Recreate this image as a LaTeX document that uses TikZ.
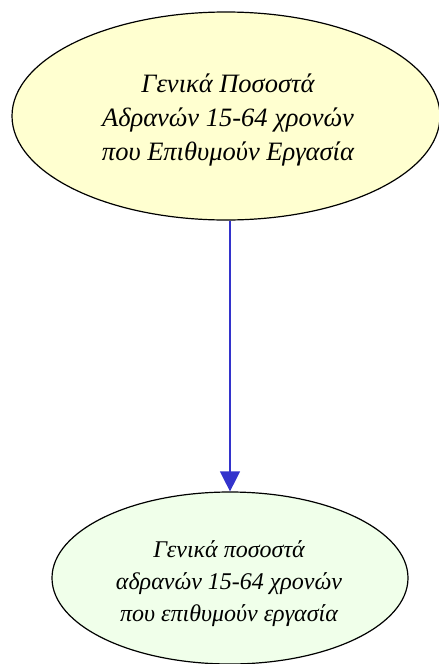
\documentclass[tikz,border=0pt]{standalone}
\usepackage{fontspec}
\setmainfont{Liberation Serif}
\usetikzlibrary{arrows.meta,shapes.geometric}
\definecolor{topfill}{RGB}{255,255,208}
\definecolor{botfill}{RGB}{240,255,234}
\definecolor{arrowblue}{RGB}{51,51,204}
\tikzset{
  ell/.style={ellipse, draw=black, line width=1.2pt, inner sep=0pt},
  lbl/.style={align=center, inner sep=0pt},
  link/.style={draw=arrowblue, line width=1.2pt, -{Triangle[length=20pt,width=20pt]}}
}
\begin{document}
\begin{tikzpicture}[x=1pt,y=-1pt]
\useasboundingbox (0,0) rectangle (439,664);
\node[ell, fill=topfill, minimum width=428pt, minimum height=208pt] (top) at (226,116) {};
\node[lbl, font=\fontsize{26.5}{34}\selectfont\itshape] (toptext) at (228,120)
  {Γενικά Ποσοστά\\Αδρανών 15-64 χρονών\\που Επιθυμούν Εργασία};
\node[ell, fill=botfill, minimum width=356pt, minimum height=172pt] (bot) at (230,578) {};
\node[lbl, font=\fontsize{24}{32}\selectfont\itshape] (bottext) at (229,584)
  {Γενικά ποσοστά\\αδρανών 15-64 χρονών\\που επιθυμούν εργασία};
\draw[link] (top.south -| bot.north) -- (bot.north);
\end{tikzpicture}
\end{document}
